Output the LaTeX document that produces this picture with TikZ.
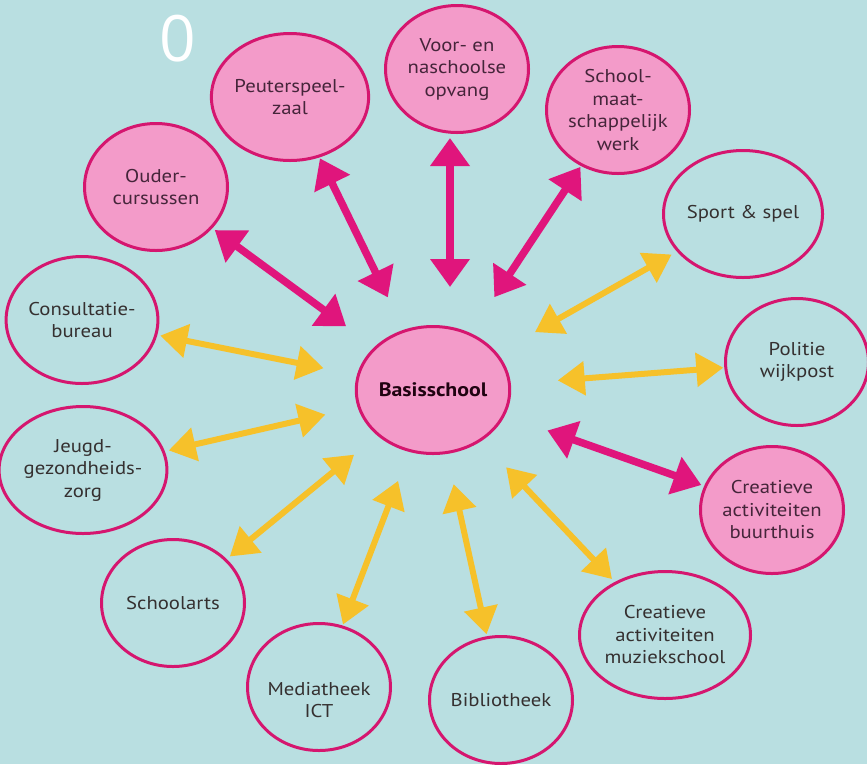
\documentclass[tikz,border=0pt]{standalone}
\usepackage{fontspec}
\setmainfont{PT Sans}[FakeStretch=1.12]
\newfontfamily\zerofont{Open Sans}
\usetikzlibrary{arrows.meta,shapes.geometric}
\definecolor{bgc}{HTML}{B9DFE1}
\definecolor{pinkfill}{HTML}{F39BC9}
\definecolor{pinkline}{HTML}{D5166F}
\definecolor{pinkarrow}{HTML}{E0157C}
\definecolor{yelarrow}{HTML}{F6C12A}
\definecolor{txt}{HTML}{353030}
\definecolor{txtp}{HTML}{45253A}
\tikzset{
  circ/.style={ellipse, draw=pinkline, line width=3pt, minimum width=143pt, minimum height=127pt,
    inner sep=0pt, align=center, text=txt, font=\fontsize{18.5}{22.5}\selectfont},
  pcirc/.style={circ, fill=pinkfill, text=txtp},
  pinkarr/.style={draw=pinkarrow, line width=7.5pt, {Triangle[length=28pt,width=38pt]}-{Triangle[length=28pt,width=38pt]}},
  yelarr/.style={draw=yelarrow, line width=6pt, {Triangle[length=27pt,width=33pt]}-{Triangle[length=27pt,width=33pt]}}
}
\begin{document}
\begin{tikzpicture}[x=1pt,y=-1pt]
\fill[bgc] (0,0) rectangle (867,764);
\useasboundingbox (0,0) rectangle (867,764);
\node[text=white, font=\zerofont\fontsize{64}{70}\selectfont] (zero) at (178,39) {0};
% nodes
\node[pcirc, font=\bfseries\fontsize{19.5}{22.5}\selectfont, text=black!85!pinkline] (basis) at (433,390) {Basisschool};
\node[pcirc] (peuter) at (290,97) {Peuterspeel-\\zaal};
\node[pcirc] (voor) at (457,69) {Voor- en\\naschoolse\\opvang};
\node[pcirc] (school) at (618,110) {School-\\maat-\\schappelijk\\werk};
\node[pcirc] (ouder) at (156,187) {Ouder-\\cursussen};
\node[circ] (sport) at (743,214) {Sport \& spel};
\node[circ] (consult) at (82,320) {Consultatie-\\bureau};
\node[circ] (politie) at (797,362) {Politie\\wijkpost};
\node[circ] (jeugd) at (83,470) {Jeugd-\\gezondheids-\\zorg};
\node[pcirc] (buurt) at (772,510) {Creatieve\\activiteiten\\buurthuis};
\node[circ] (arts) at (173,603) {Schoolarts};
\node[circ] (muziek) at (665,635) {Creatieve\\activiteiten\\muziekschool};
\node[circ, label={[name=mediatext, align=center, text=txt, font=\fontsize{18.5}{22.5}\selectfont, yshift=-13pt]center:{Mediatheek\\ICT}}] (media) at (319,687) {};
\node[circ] (biblio) at (501,700) {Bibliotheek};
% connectors
\draw[pinkarr, shorten <=36pt, shorten >=1pt] (basis) -- (peuter);
\draw[pinkarr, shorten <=35pt, shorten >=3pt] (basis) -- (ouder);
\draw[pinkarr, shorten <=38pt, shorten >=4pt] ([xshift=-7pt]voor.south |- basis.north) -- ([xshift=-7pt]voor.south);
\draw[pinkarr, shorten <=43pt, shorten >=1pt] (basis) -- (school);
\draw[pinkarr, shorten <=45pt, shorten >=3pt] (basis) -- (buurt);
\draw[yelarr, shorten <=34pt, shorten >=3pt] (basis) -- (consult);
\draw[yelarr, shorten <=33pt, shorten >=4pt] (basis) -- (jeugd);
\draw[yelarr, shorten <=30pt, shorten >=4pt] (basis) -- (arts);
\draw[yelarr, shorten <=31pt, shorten >=1pt] (basis) -- (media);
\draw[yelarr, shorten <=31pt, shorten >=2pt] (basis) -- (biblio);
\draw[yelarr, shorten <=36pt, shorten >=4pt] (basis) -- (muziek);
\draw[yelarr, shorten <=47pt, shorten >=1pt] (basis) -- (politie);
\draw[yelarr, shorten <=43pt, shorten >=6pt] (basis) -- (sport);
\end{tikzpicture}
\end{document}
